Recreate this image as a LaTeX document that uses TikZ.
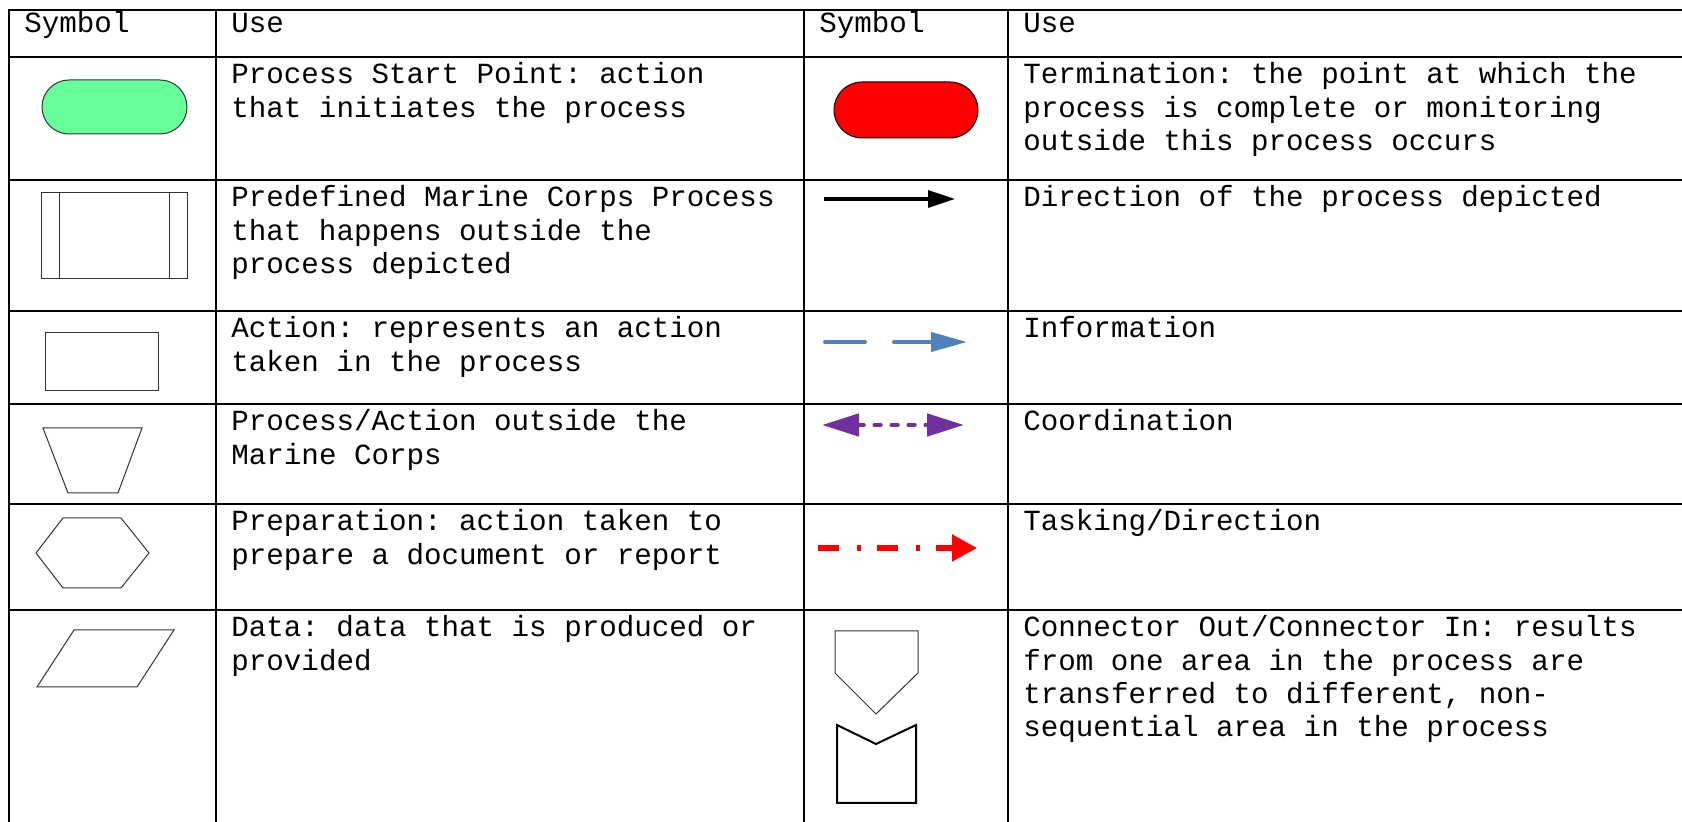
\documentclass[tikz,border=0pt]{standalone}
\usepackage{fontspec}
\usepackage{tikz}
\usetikzlibrary{arrows.meta}
\newfontfamily\cellfont{Liberation Mono}
\protected\def\cellstyle{\cellfont\fontsize{14.6}{16.65}\selectfont\frenchspacing}
\protected\def\monospace{\spaceskip=8.76pt\relax\xspaceskip=8.76pt\relax}
\definecolor{startgreen}{RGB}{102,255,153}
\definecolor{infoblue}{RGB}{79,129,189}
\definecolor{coordpurple}{RGB}{112,48,160}
\tikzset{
  tableline/.style={line width=1.3pt, line cap=rect},
  sym/.style={line width=0.5pt, draw=black!80},
  cell/.style={anchor=base west, inner sep=0pt, align=left, text width=330pt,
    font=\cellstyle, execute at begin node=\monospace}
}
\begin{document}
\begin{tikzpicture}[x=0.5pt,y=-0.5pt]
\useasboundingbox (0,0) rectangle (1682,822);
% table
\foreach \y in {10,57,180,311,404,504,610}
  \draw[tableline] (9,\y) -- (1682,\y);
\foreach \x in {9,216,804,1008}
  \draw[tableline] (\x,10) -- (\x,822);

% header
\node[cell] (sym1) at (24,33) {Symbol};
\node[cell] (use1) at (231,33) {Use};
\node[cell] (sym2) at (819,33) {Symbol};
\node[cell] (use2) at (1023,33) {Use};

% left symbols
\filldraw[sym, fill=startgreen, rounded corners=13.5pt] (42,80) rectangle (187,134);
\draw[sym] (41,193) rectangle (187,279);
\draw[sym] (59,193) -- (59,279);
\draw[sym] (169,193) -- (169,279);
\draw[sym] (45,333) rectangle (158,391);
\draw[sym] (43,428) -- (142,428) -- (118,493) -- (68,493) -- cycle;
\draw[sym] (36,553) -- (63,518) -- (121,518) -- (149,553) -- (121,588) -- (63,588) -- cycle;
\draw[sym] (74,630) -- (174,630) -- (137,687) -- (37,687) -- cycle;

% left uses
\node[cell] (start) at (231,84) {Process Start Point: action\\that initiates the process};
\node[cell] (predef) at (231,207) {Predefined Marine Corps Process\\that happens outside the\\process depicted};
\node[cell] (action) at (231,338) {Action: represents an action\\taken in the process};
\node[cell] (outside) at (231,431) {Process/Action outside the\\Marine Corps};
\node[cell] (prep) at (231,531) {Preparation: action taken to\\prepare a document or report};
\node[cell] (data) at (231,637) {Data: data that is produced or\\provided};

% right symbols
\filldraw[sym, draw=black, fill=red, rounded corners=14pt] (834,82) rectangle (978,138);
\draw[line width=1.6pt, -{Triangle[length=13.5pt,width=8.5pt]}] (824,199) -- (955,199);
\draw[infoblue, line width=2pt, line cap=round, dash pattern=on 20pt off 14.5pt on 80pt off 1pt,
  -{Triangle[length=18pt,width=9.5pt]}] (825,342) -- (967,342);
\draw[coordpurple, line width=2.4pt, line cap=round, dash pattern=on 2.8pt off 5.7pt,
  {Triangle[length=18.5pt,width=11pt]}-{Triangle[length=18.5pt,width=11pt]}] (822,425) -- (964,425);
\draw[red, line width=2.7pt, dash pattern=on 10.5pt off 9pt on 2pt off 8pt,
  -{Triangle[length=12.5pt,width=13pt]}] (818,548) -- (977,548);
\draw[sym] (835,631) -- (918,631) -- (918,673) -- (876,714) -- (835,673) -- cycle;
\draw[line width=1pt] (837,725) -- (876,744) -- (916,725) -- (916,803) -- (837,803) -- cycle;

% right uses
\node[cell] (term) at (1023,84) {Termination: the point at which the\\process is complete or monitoring\\outside this process occurs};
\node[cell] (dir) at (1023,207) {Direction of the process depicted};
\node[cell] (info) at (1023,338) {Information};
\node[cell] (coord) at (1023,431) {Coordination};
\node[cell] (task) at (1023,531) {Tasking/Direction};
\node[cell] (conn) at (1023,637) {Connector Out/Connector In: results\\from one area in the process are\\transferred to different, non-\\sequential area in the process};
\end{tikzpicture}
\end{document}
